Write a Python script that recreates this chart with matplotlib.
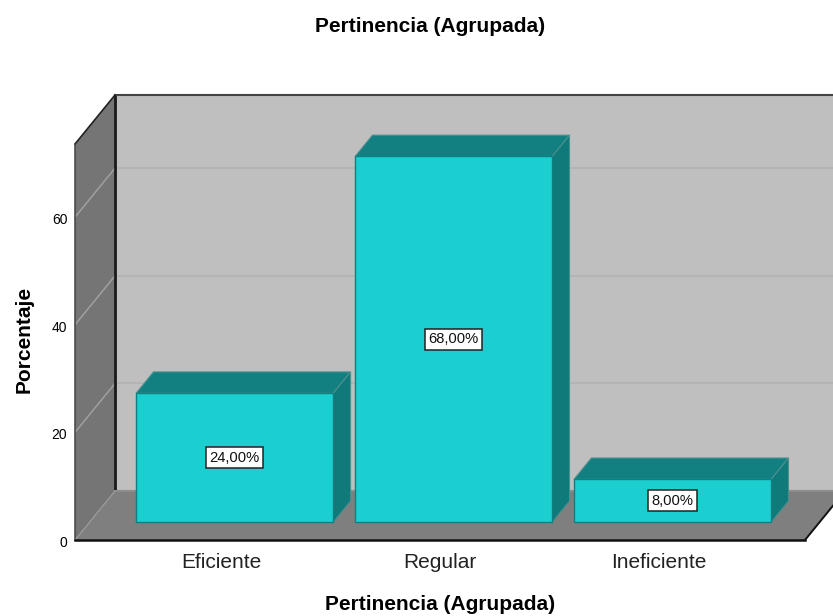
import matplotlib
matplotlib.use('Agg')
import matplotlib.pyplot as plt
from matplotlib.patches import Polygon
from matplotlib.transforms import ScaledTranslation

plt.rcParams['font.family'] = ['Liberation Sans', 'DejaVu Sans']

# data
categories = ['Eficiente', 'Regular', 'Ineficiente']
percentages = [24, 68, 8]
value_labels = ['24,00%', '68,00%', '8,00%']
y_ticks = [0, 20, 40, 60]

W, H = 833, 616
fig = plt.figure(figsize=(W / 100, H / 100), dpi=100)
# the front plane of the 3d box, in pixels
left, right, bottom, top = 75, 805, 540, 144
ax = fig.add_axes([left / W, 1 - bottom / H, (right - left) / W, (bottom - top) / H])
ax.set_xlim(-0.667, 2.667)
ax.set_ylim(0, 73.6)
for s in ax.spines.values():
    s.set_visible(False)
ax.patch.set_visible(False)

# depth of the box in data units
x_per_px = 3.334 / (right - left)
y_per_px = 73.6 / (bottom - top)
depth_x = 40 * x_per_px
depth_y = 49 * y_per_px


def proj(x, y, z):
    return (x + depth_x * z, y + depth_y * z)


def face(points, color, edge='none', lw=0, zorder=1):
    ax.add_patch(Polygon(points, closed=True, facecolor=color, edgecolor=edge, linewidth=lw,
                         zorder=zorder, clip_on=False))


x0, x1 = ax.get_xlim()
y1 = ax.get_ylim()[1]

# walls and floor
face([proj(x0, 0, 1), proj(x1, 0, 1), proj(x1, y1, 1), proj(x0, y1, 1)], '#bfbfbf')
face([proj(x0, 0, 0), proj(x0, 0, 1), proj(x0, y1, 1), proj(x0, y1, 0)], '#757575')
face([proj(x0, 0, 0), proj(x1, 0, 0), proj(x1, 0, 1), proj(x0, 0, 1)], '#7f7f7f')

# gridlines run across the side wall and the back wall
for t in y_ticks[1:]:
    a, b, c = proj(x0, t, 0), proj(x0, t, 1), proj(x1, t, 1)
    ax.plot([a[0], b[0]], [a[1], b[1]], color='#a0a0a0', lw=1.1, zorder=2, clip_on=False)
    ax.plot([b[0], c[0]], [b[1], c[1]], color='#b2b2b2', lw=1.2, zorder=2, clip_on=False)

# box outline
a, b = proj(x0, 0, 1), proj(x0, y1, 1)
ax.plot([a[0], b[0]], [a[1], b[1]], color='#1a1a1a', lw=2, zorder=3, clip_on=False, solid_capstyle='butt')
c = proj(x1, y1, 1)
ax.plot([b[0], c[0]], [b[1], c[1]], color='#444444', lw=1.5, zorder=3, clip_on=False)
d = proj(x0, y1, 0)
ax.plot([d[0], b[0]], [d[1], b[1]], color='#222222', lw=1.2, zorder=3, clip_on=False)
ax.plot([x0, x0], [0, y1], color='#444444', lw=1.1, zorder=3, clip_on=False)
e = proj(x1, 0, 1)
ax.plot([a[0], e[0]], [a[1], e[1]], color='#8c8c8c', lw=1.5, zorder=3, clip_on=False)
ax.plot([x0, a[0]], [0, a[1]], color='#a0a0a0', lw=0.7, zorder=3, clip_on=False)
ax.plot([x0, x1], [0, 0], color='#111111', lw=1.8, zorder=3, clip_on=False)
ax.plot([x1, e[0]], [0, e[1]], color='#111111', lw=1.4, zorder=3, clip_on=False)

# bars
bar_w = 0.9
z_front, z_back = 0.36, 0.795
front_col, top_col, side_col = '#1bcfd0', '#128080', '#107a7a'
edge_col = '#0f7f80'
for i, v in enumerate(percentages):
    xl, yb = proj(i - bar_w / 2, 0, z_front)
    xl -= 0.8 * x_per_px
    xr = xl + bar_w
    ax.bar(xl, v, width=bar_w, bottom=yb, align='edge', color=front_col, edgecolor=edge_col,
           linewidth=1, zorder=5, clip_on=False)
    dz = z_back - z_front
    dx, dy = depth_x * dz, depth_y * dz
    face([(xl, yb + v), (xr, yb + v), (xr + dx, yb + v + dy), (xl + dx, yb + v + dy)],
         top_col, '#4d8f8f', 0.8, 4)
    face([(xr, yb), (xr + dx, yb + dy), (xr + dx, yb + v + dy), (xr, yb + v)],
         side_col, '#4d8f8f', 0.8, 4)
    ax.text(xl + bar_w / 2, yb + v / 2, value_labels[i], ha='center', va='center', fontsize=10.6,
            color='#111111', zorder=6,
            bbox=dict(boxstyle='square,pad=0.23', facecolor='white', edgecolor='#222222', linewidth=1.1))

ax.set_xticks(range(len(categories)))
ax.set_xticklabels(categories, fontsize=15, color='#222222')
ax.set_yticks(y_ticks)
ax.set_yticklabels([str(t) for t in y_ticks], fontsize=10)
ax.tick_params(axis='both', length=0)
ax.tick_params(axis='x', pad=9)
ax.tick_params(axis='y', pad=5.5)
for lab in ax.get_yticklabels():
    lab.set_transform(lab.get_transform() + ScaledTranslation(0, -1 / 72, fig.dpi_scale_trans))

ax.set_xlabel('Pertinencia (Agrupada)', fontsize=15, fontweight='bold')
ax.xaxis.set_label_coords((440 - left) / (right - left), (bottom - 605) / (bottom - top), transform=ax.transAxes)
ax.xaxis.label.set_va('center')
ax.set_ylabel('Porcentaje', fontsize=15, fontweight='bold')
ax.yaxis.set_label_coords((24 - left) / (right - left), (bottom - 339) / (bottom - top), transform=ax.transAxes)
ax.yaxis.label.set_va('center')

fig.text(430 / W, 1 - 26 / H, 'Pertinencia (Agrupada)', ha='center', va='center', fontsize=15, fontweight='bold')

fig.savefig('out.png', dpi=100)
